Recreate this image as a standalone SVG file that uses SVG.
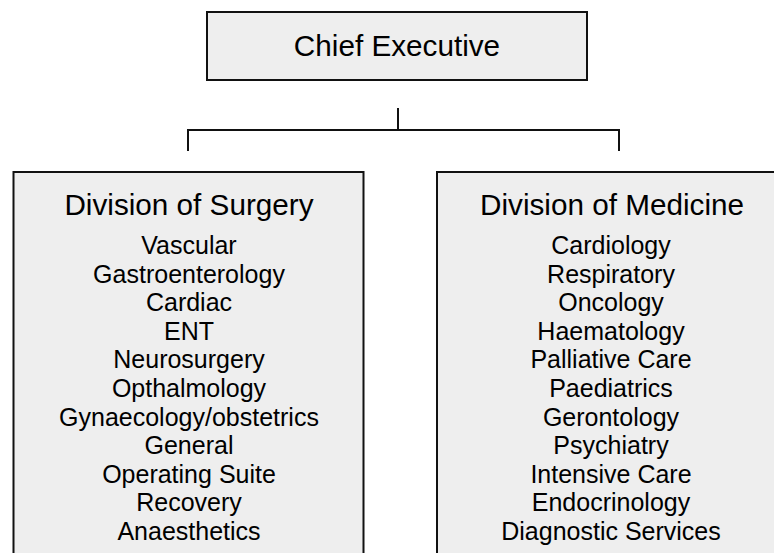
<svg xmlns="http://www.w3.org/2000/svg" width="774" height="553" viewBox="0 0 774 553">
<style>
.box{fill:#eeeeee;stroke:#111111;stroke-width:2}
.conn{fill:none;stroke:#111111;stroke-width:2}
.t{font-family:"Liberation Sans",Arial,sans-serif;fill:#000000;text-anchor:middle}
.h{font-size:29.7px}
.i{font-size:25px}
</style>
<g id="connectors">
<path class="conn" d="M398,108 V130 M188,151 V130 H619 V151"/>
</g>
<g id="chief">
<rect class="box" x="207" y="12" width="380" height="68"/>
<text class="t h" x="397" y="56">Chief Executive</text>
</g>
<g id="surgery">
<rect class="box" x="13.5" y="172" width="350" height="400"/>
<text class="t h" x="189" y="215">Division of Surgery</text>
<text class="t i" x="189" y="254">Vascular</text>
<text class="t i" x="189" y="282.6">Gastroenterology</text>
<text class="t i" x="189" y="311.2">Cardiac</text>
<text class="t i" x="189" y="339.8">ENT</text>
<text class="t i" x="189" y="368.4">Neurosurgery</text>
<text class="t i" x="189" y="397">Opthalmology</text>
<text class="t i" x="189" y="425.6">Gynaecology/obstetrics</text>
<text class="t i" x="189" y="454.2">General</text>
<text class="t i" x="189" y="482.8">Operating Suite</text>
<text class="t i" x="189" y="511.4">Recovery</text>
<text class="t i" x="189" y="540">Anaesthetics</text>
</g>
<g id="medicine">
<rect class="box" x="437" y="172" width="351" height="400"/>
<text class="t h" x="612" y="215">Division of Medicine</text>
<text class="t i" x="611" y="254">Cardiology</text>
<text class="t i" x="611" y="282.6">Respiratory</text>
<text class="t i" x="611" y="311.2">Oncology</text>
<text class="t i" x="611" y="339.8">Haematology</text>
<text class="t i" x="611" y="368.4">Palliative Care</text>
<text class="t i" x="611" y="397">Paediatrics</text>
<text class="t i" x="611" y="425.6">Gerontology</text>
<text class="t i" x="611" y="454.2">Psychiatry</text>
<text class="t i" x="611" y="482.8">Intensive Care</text>
<text class="t i" x="611" y="511.4">Endocrinology</text>
<text class="t i" x="611" y="540">Diagnostic Services</text>
</g>
</svg>
